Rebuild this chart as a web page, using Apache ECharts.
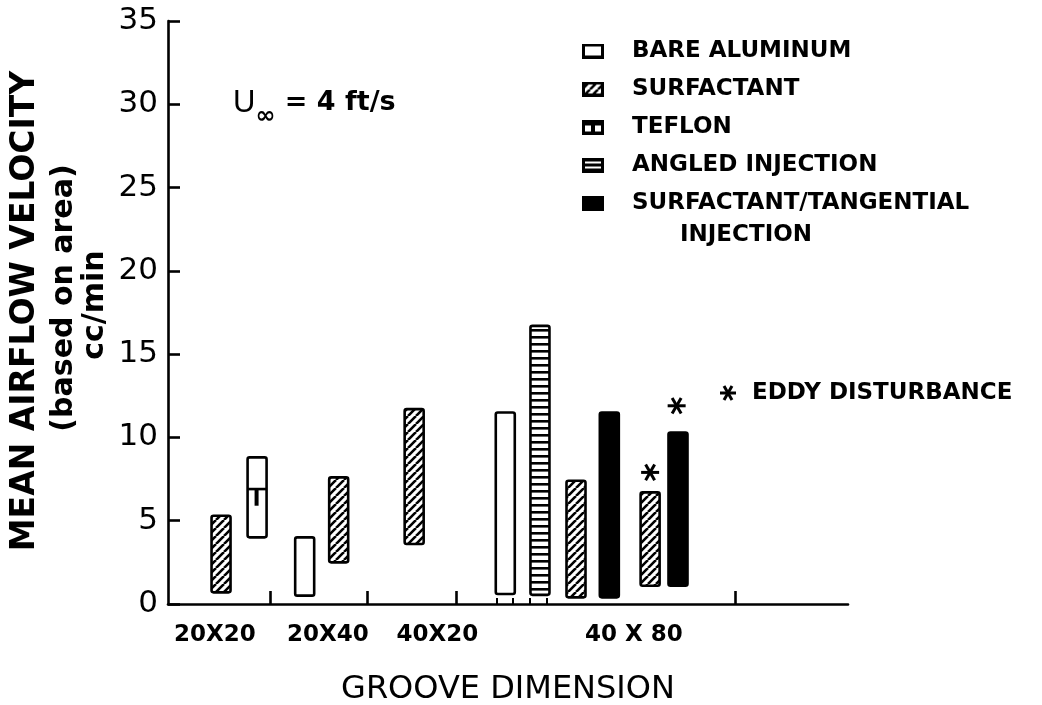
<!DOCTYPE html>
<html><head><meta charset="utf-8">
<script src="https://cdn.jsdelivr.net/npm/echarts@6/dist/echarts.min.js"></script>
<style>html,body{margin:0;padding:0;background:#fff}#c{width:1042px;height:705px}</style>
</head><body><div id="c"></div>
<script>
// ---------- DATA ----------
// each bar: [x position on groove axis, low value, high value]  (cc/min)
const bareAluminum = [[20.1, 0.5, 4.0], [49.6, 0.6, 11.5]];
const surfactant   = [[7.8, 0.7, 5.3], [25.1, 2.5, 7.6], [36.2, 3.6, 11.7], [60.0, 0.4, 7.4], [70.9, 1.1, 6.7]];
const teflon       = [[13.1, 4.0, 8.8]];
const teflonMark   = [6.9, 5.9];            // inner line and stub end of teflon bar
const angled       = [[54.7, 0.55, 16.7]];
const surfTang     = [[64.9, 0.4, 11.5], [75.0, 1.1, 10.3]];
const eddy         = [[70.9, 7.9], [74.8, 11.9]];   // eddy disturbance markers
const xLabelPos    = [6.9, 23.5, 39.6, 68.5];
const xLabels      = ['20X20', '20X40', '40X20', '40 X 80'];
const xMajorTicks  = [15.0, 29.3, 42.4, 83.4];
const xMinorTicks  = [48.4, 50.7, 53.2, 55.7];
const yMin = 0, yMax = 35, yStep = 5;
const names = ['BARE ALUMINUM', 'SURFACTANT', 'TEFLON', 'ANGLED INJECTION', 'SURFACTANT/TANGENTIAL INJECTION'];

// ---------- STYLE HELPERS ----------
const BAR_W = 19, BORDER = 2.6;
function makeCanvas(w, h, draw) { const c = document.createElement('canvas'); c.width = w; c.height = h; draw(c.getContext('2d'), w, h); return c; }
const hatchTile = makeCanvas(8, 8, (ctx, w, h) => {
  ctx.fillStyle = '#fff'; ctx.fillRect(0, 0, w, h);
  ctx.strokeStyle = '#000'; ctx.lineWidth = 2.6; ctx.beginPath();
  for (const o of [-w, 0, w]) { ctx.moveTo(o, h); ctx.lineTo(o + w, 0); }
  ctx.stroke();
});
const stripeTile = makeCanvas(4, 7, (ctx, w, h) => {
  ctx.fillStyle = '#fff'; ctx.fillRect(0, 0, w, h);
  ctx.fillStyle = '#000'; ctx.fillRect(0, 0, w, 2.6);
});
const hatchFill = { image: hatchTile, repeat: 'repeat' };
const stripeFill = { image: stripeTile, repeat: 'repeat' };
const fills = ['#fff', hatchFill, '#fff', stripeFill, '#000'];

function icon(kind) {
  return 'image://' + makeCanvas(22, 15, (ctx, w, h) => {
    ctx.fillStyle = '#fff'; ctx.fillRect(0, 0, w, h);
    if (kind === 1) { for (let i = 0; i < 3; i++) for (let j = 0; j < 2; j++) ctx.drawImage(hatchTile, i * 8, j * 8); }
    if (kind === 2) { ctx.fillStyle = '#000'; ctx.fillRect(0, 0, w, 6); ctx.fillRect(9, 0, 4, 12); }
    if (kind === 3) { ctx.fillStyle = '#000'; ctx.fillRect(0, 0, w, h); ctx.fillStyle = '#fff'; ctx.fillRect(3, 4, 16, 2); ctx.fillRect(3, 9, 16, 2); }
    if (kind === 4) { ctx.fillStyle = '#000'; ctx.fillRect(0, 0, w, h); }
    ctx.strokeStyle = '#000'; ctx.lineWidth = 3; ctx.strokeRect(1.5, 1.5, w - 3, h - 3);
  }).toDataURL();
}

function barItem(api, fill) {
  const x = api.value(0), lo = api.value(1), hi = api.value(2);
  const pt = api.coord([x, hi]), pb = api.coord([x, lo]);
  return { type: 'rect', shape: { x: pt[0] - BAR_W / 2, y: pt[1], width: BAR_W, height: pb[1] - pt[1], r: 2 },
    style: { fill: fill, stroke: '#000', lineWidth: BORDER } };
}
function barSeries(i, data) {
  return { type: 'custom', name: names[i], data: data, itemStyle: { color: '#000' },
    renderItem: (p, api) => barItem(api, fills[i]) };
}
const teflonSeries = {
  type: 'custom', name: names[2], data: teflon, itemStyle: { color: '#000' },
  renderItem: (p, api) => {
    const x = api.value(0);
    const r = barItem(api, '#fff');
    const pl = api.coord([x, teflonMark[0]]), ps = api.coord([x, teflonMark[1]]);
    return { type: 'group', children: [r,
      { type: 'line', shape: { x1: pl[0] - BAR_W / 2, y1: pl[1], x2: pl[0] + BAR_W / 2, y2: pl[1] }, style: { stroke: '#000', lineWidth: 2.6 } },
      { type: 'rect', shape: { x: pl[0] - 2.5, y: pl[1], width: 4, height: ps[1] - pl[1] }, style: { fill: '#000' } }] };
  }
};
function asterisk(cx, cy, s) {
  const ang = [0, Math.PI / 3, 2 * Math.PI / 3];
  return ang.map(a => ({ type: 'line', shape: { x1: cx - s * Math.cos(a), y1: cy - s * Math.sin(a), x2: cx + s * Math.cos(a), y2: cy + s * Math.sin(a) },
    style: { stroke: '#000', lineWidth: 3 } }));
}
const eddySeries = {
  type: 'custom', name: 'EDDY DISTURBANCE', data: eddy,
  renderItem: (p, api) => { const c = api.coord([api.value(0), api.value(1)]); return { type: 'group', children: asterisk(c[0], c[1], 9) }; }
};

const legendFont = 'bold 23px "DejaVu Sans"';
const chart = echarts.init(document.getElementById('c'), null, { renderer: 'canvas' });
chart.setOption({
  animation: false,
  backgroundColor: '#fff',
  grid: { left: 168, right: 194, top: 21, bottom: 101, containLabel: false, outerBoundsMode: 'none' },
  legend: {
    orient: 'vertical', left: 582, top: 34, padding: 0, itemWidth: 22, itemHeight: 15, itemGap: 4, selectedMode: false,
    textStyle: { fontFamily: 'DejaVu Sans', fontWeight: 'bold', fontSize: 23, color: '#000', lineHeight: 34, padding: [0, 0, 0, 23] },
    data: names.map((n, i) => ({ name: n, icon: icon(i) })),
    formatter: n => n === names[4] ? 'SURFACTANT/TANGENTIAL' : n
  },
  xAxis: [{
    type: 'value', min: 0, max: 100, position: 'bottom',
    name: 'GROOVE DIMENSION', nameLocation: 'middle', nameGap: 70,
    nameTextStyle: { fontFamily: 'DejaVu Sans', fontSize: 32, color: '#000' },
    axisLine: { show: true, lineStyle: { color: '#000', width: 2.6 } },
    axisTick: { show: true, inside: true, length: 13, customValues: xMajorTicks, lineStyle: { color: '#000', width: 2.6 } },
    axisLabel: { show: true, customValues: xLabelPos, margin: 20, color: '#000', fontFamily: 'DejaVu Sans', fontWeight: 'bold', fontSize: 23,
      formatter: v => { const k = xLabelPos.indexOf(v); return k >= 0 ? xLabels[k] : ''; } },
    splitLine: { show: false }
  }, {
    type: 'value', min: 0, max: 100, position: 'bottom', offset: 0,
    axisLine: { show: false },
    axisTick: { show: true, inside: true, length: 6, customValues: xMinorTicks, lineStyle: { color: '#000', width: 2 } },
    axisLabel: { show: false }, splitLine: { show: false }
  }],
  yAxis: {
    type: 'value', min: yMin, max: yMax, interval: yStep,
    axisLine: { show: true, lineStyle: { color: '#000', width: 2.6 } },
    axisTick: { show: true, inside: true, length: 12, lineStyle: { color: '#000', width: 2.6 } },
    axisLabel: { margin: 10, color: '#000', fontFamily: 'DejaVu Sans', fontSize: 31 },
    splitLine: { show: false }
  },
  graphic: [
    { type: 'text', x: 25, y: 311, rotation: Math.PI / 2, style: { text: 'MEAN AIRFLOW VELOCITY', font: 'bold 33px "DejaVu Sans"', fill: '#000', textAlign: 'center', textVerticalAlign: 'middle' } },
    { type: 'text', x: 64, y: 298, rotation: Math.PI / 2, style: { text: '(based on area)', font: 'bold 30px "DejaVu Sans"', fill: '#000', textAlign: 'center', textVerticalAlign: 'middle' } },
    { type: 'text', x: 95, y: 305, rotation: Math.PI / 2, style: { text: 'cc/min', font: 'bold 30px "DejaVu Sans"', fill: '#000', textAlign: 'center', textVerticalAlign: 'middle' } },
    { type: 'text', x: 233, y: 103, style: { text: '{u|U}{s|∞}{r| = 4 ft/s}', fill: '#000', textAlign: 'left', textVerticalAlign: 'middle',
      rich: { u: { fontFamily: 'Liberation Sans', fontSize: 31, lineHeight: 52, verticalAlign: 'middle' },
              s: { fontFamily: 'DejaVu Sans', fontWeight: 'bold', fontSize: 24, lineHeight: 16, verticalAlign: 'bottom' },
              r: { fontFamily: 'DejaVu Sans', fontWeight: 'bold', fontSize: 27, lineHeight: 52, verticalAlign: 'middle' } } } },
    { type: 'text', x: 680, y: 235, style: { text: 'INJECTION', font: legendFont, fill: '#000', textAlign: 'left', textVerticalAlign: 'middle' } },
    { type: 'group', children: asterisk(728, 393, 8) },
    { type: 'text', x: 752, y: 393, style: { text: 'EDDY DISTURBANCE', font: legendFont, fill: '#000', textAlign: 'left', textVerticalAlign: 'middle' } }
  ],
  series: [barSeries(0, bareAluminum), barSeries(1, surfactant), teflonSeries, barSeries(3, angled), barSeries(4, surfTang), eddySeries]
});
</script>
</body></html>
